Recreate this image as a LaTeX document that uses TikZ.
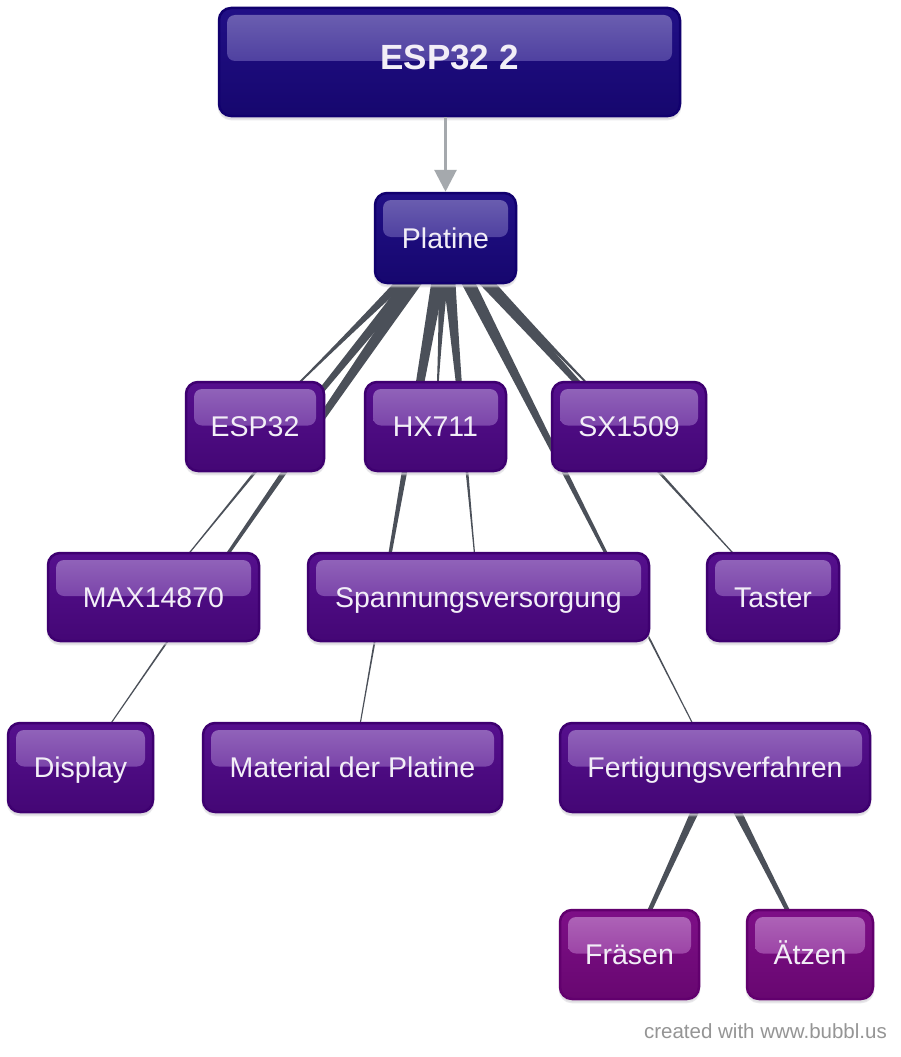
\documentclass[tikz,border=0pt]{standalone}
\usepackage{fontspec}
\setmainfont{Liberation Sans}
\usetikzlibrary{calc,arrows.meta,shadows}
\pgfdeclarelayer{back}
\pgfdeclarelayer{bg}
\pgfsetlayers{back,bg,main}
\definecolor{navyB}{HTML}{1A0882}
\definecolor{navyD}{HTML}{11006E}
\definecolor{navyG}{HTML}{6E62B2}
\definecolor{purB}{HTML}{50088A}
\definecolor{purD}{HTML}{3E0070}
\definecolor{purG}{HTML}{9468BC}
\definecolor{magB}{HTML}{7A0884}
\definecolor{magD}{HTML}{62006E}
\definecolor{magG}{HTML}{B068BA}
\definecolor{txtc}{HTML}{F2EEF7}
\definecolor{linkc}{HTML}{4B5059}
\definecolor{arrc}{HTML}{A5A9AD}
\definecolor{credc}{HTML}{959595}
\definecolor{shadc}{HTML}{D4D2D8}
\newcommand{\lblfont}{\fontsize{28.5}{30}\selectfont}
\newcommand{\ttlfont}{\fontsize{35}{37}\selectfont\bfseries}
% tapered connector: #1 parent, #2 child, #3 half width at parent (total), #4 half width at child
\newcommand{\taperlink}[4]{%
  \coordinate (tA1) at ($(#1.center)!#3pt!90:(#2.center)$);
  \coordinate (tA2) at ($(#1.center)!#3pt!-90:(#2.center)$);
  \coordinate (tM) at ($(#1.center)!0.5!(#2.center)$);
  \coordinate (tQ1) at ($(tM)!#4pt!90:(#2.center)$);
  \coordinate (tQ2) at ($(tM)!#4pt!-90:(#2.center)$);
  \coordinate (tB1) at ($(#2.center)!#4pt!-90:(#1.center)$);
  \coordinate (tB2) at ($(#2.center)!#4pt!90:(#1.center)$);
  \fill[linkc] (tA1) .. controls ($(tA1)!0.6667!(tQ1)$) and ($(tB1)!0.6667!(tQ1)$) .. (tB1)
     -- (tB2) .. controls ($(tB2)!0.6667!(tQ2)$) and ($(tA2)!0.6667!(tQ2)$) .. (tA2) -- cycle;
}
\tikzset{
  bub/.style n args={3}{rounded corners=12pt, draw=#2, line width=2.5pt,
    top color=#1!97!white, bottom color=#1!85!black,
    inner sep=0pt, text=txtc, font=\lblfont, text height=20pt, text depth=0pt,
    drop shadow={shadow xshift=0pt, shadow yshift=-3pt, fill=shadc, draw=shadc},
    path picture={\shade[rounded corners=8pt, top color=#3, middle color=#3!90!#1, bottom color=#3!25!#1]
      ([xshift=8pt,yshift=-7pt]path picture bounding box.north west) rectangle
      ([xshift=-8pt,yshift=1pt]path picture bounding box.east);}},
  lvtop/.style={bub={navyB}{navyD}{navyG}},
  lvmid/.style={bub={purB}{purD}{purG}},
  lvlow/.style={bub={magB}{magD}{magG}},
  arr/.style={draw=arrc, line width=3pt, -{Triangle[width=22pt,length=22pt]}},
}
\begin{document}
\begin{tikzpicture}[x=1pt,y=-1pt]
\begin{pgfonlayer}{back}
\fill[white] (0,0) rectangle (900,1057);
\end{pgfonlayer}
\useasboundingbox (0,0) rectangle (900,1057);

\node[lvtop, font=\ttlfont, text height=25pt, text depth=10pt, minimum width=461pt, minimum height=108pt] (top) at (449.5,62) {ESP32 2};
\node[lvtop, minimum width=141pt, minimum height=90pt] (plat) at (445.5,238) {Platine};

\node[lvmid, minimum width=138pt, minimum height=89pt] (esp) at (255,426.5) {ESP32};
\node[lvmid, minimum width=141pt, minimum height=89pt] (hx) at (435.5,426.5) {HX711};
\node[lvmid, minimum width=154pt, minimum height=89pt] (sx) at (629,426.5) {SX1509};

\node[lvmid, minimum width=211pt, minimum height=88pt] (max) at (153.5,597) {MAX14870};
\node[lvmid, minimum width=341pt, minimum height=88pt] (spann) at (478.5,597) {Spannungsversorgung};
\node[lvmid, minimum width=132pt, minimum height=88pt] (taster) at (773,597) {Taster};

\node[lvmid, minimum width=145pt, minimum height=89pt] (display) at (80.5,767.5) {Display};
\node[lvmid, minimum width=299pt, minimum height=89pt] (material) at (352.5,767.5) {Material der Platine};
\node[lvmid, minimum width=310pt, minimum height=89pt] (fert) at (715,767.5) {Fertigungsverfahren};

\node[lvlow, minimum width=139pt, minimum height=89pt] (fraesen) at (629.5,954.5) {Fräsen};
\node[lvlow, minimum width=126pt, minimum height=89pt] (aetzen) at (810,954.5) {Ätzen};

\node[anchor=base east, inner sep=0pt, text=credc, font=\fontsize{20.5}{22}\selectfont] (credit) at (887,1038) {created with www.bubbl.us};

\draw[arr] (top.south -| plat) -- (plat.north);

\begin{pgfonlayer}{bg}
  \taperlink{plat}{esp}{7.5}{0.5}
  \taperlink{plat}{hx}{7.5}{0.5}
  \taperlink{plat}{sx}{7.5}{0.5}
  \taperlink{plat}{max}{7.5}{0.5}
  \taperlink{plat}{spann}{7.5}{0.5}
  \taperlink{plat}{taster}{7.5}{0.5}
  \taperlink{plat}{display}{7.5}{0.5}
  \taperlink{plat}{material}{7.5}{0.5}
  \taperlink{plat}{fert}{7.5}{0.5}
  \taperlink{fert}{fraesen}{5.4}{2.0}
  \taperlink{fert}{aetzen}{5.4}{2.0}
\end{pgfonlayer}
\end{tikzpicture}
\end{document}
